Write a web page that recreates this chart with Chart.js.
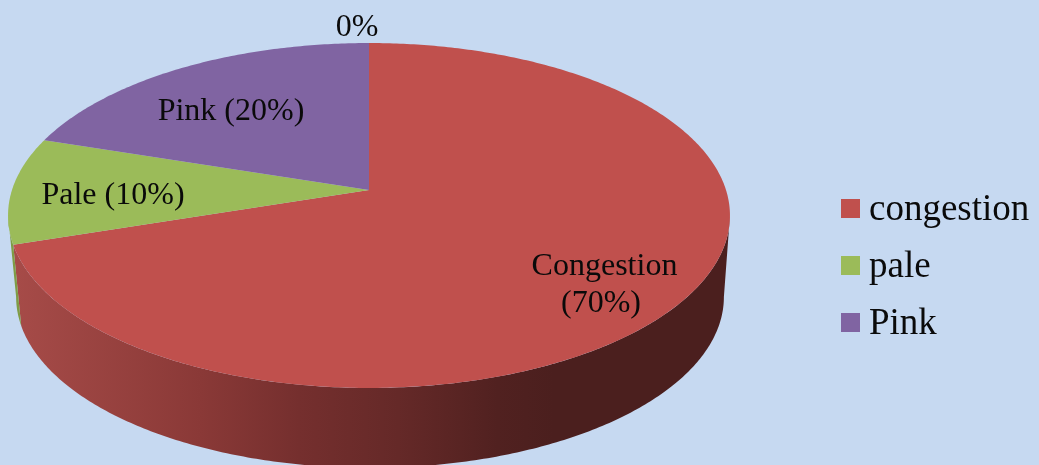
<!DOCTYPE html>
<html>
<head>
<meta charset="utf-8">
<script src="https://cdn.jsdelivr.net/npm/chart.js@4/dist/chart.umd.min.js"></script>
<style>
html,body{margin:0;padding:0;background:#C6D9F1;overflow:hidden}
canvas{display:block}
</style>
</head>
<body>
<canvas id="c" width="1039" height="465"></canvas>
<script>
const categories = ['congestion', 'pale', 'Pink', ''];
const values = [70, 10, 20, 0];
const colors = ['#C0504D', '#9BBB59', '#8064A2', '#4BACC6'];
const sideColors = ['#8A3836', '#7F9C45', '#5E4A78', '#3A8A9E'];
const sliceLabels = [
  {lines: ['Congestion', '(70%)'], cx: [604.5, 601], by: [275, 312]},
  {lines: ['Pale (10%)'], cx: [113], by: [204]},
  {lines: ['Pink (20%)'], cx: [231], by: [120]},
  {lines: ['0%'], cx: [357], by: [36]}
];

// Perspective of the pie disc: a unit circle seen from above
const K = -0.1478;
const topDisc = {x0: 369, y0: 190, a: 357, b: 168.7};
const baseDisc = {x0: 370, y0: 271.7, a: 350, b: 167.2};
function project(d, ang) {
  const u = Math.cos(ang), v = Math.sin(ang), w = 1 + K * v;
  return [d.x0 + d.a * u / w, d.y0 + d.b * v / w];
}
function trace(ctx, d, from, to, first) {
  const n = Math.max(2, Math.ceil(Math.abs(to - from) * 90));
  for (let i = 0; i <= n; i++) {
    const p = project(d, from + (to - from) * i / n);
    if (i === 0 && first) ctx.moveTo(p[0], p[1]); else ctx.lineTo(p[0], p[1]);
  }
}

const pie3d = {
  id: 'pie3d',
  beforeDatasetDraw(chart, args) {
    const ctx = chart.ctx, arcs = chart.getDatasetMeta(args.index).data;
    const aR = Math.asin(-K), aL = Math.PI - aR;
    const grad = ctx.createLinearGradient(16, 0, 724, 0);
    [[0, '#A64B48'], [0.26, '#8A3937'], [0.4, '#752F2E'], [0.54, '#652928'],
     [0.68, '#512120'], [0.76, '#4B1F1E'], [1, '#4B1F1E']].forEach(s => grad.addColorStop(s[0], s[1]));
    ctx.save();
    // side wall
    arcs.forEach((el, i) => {
      const lo = Math.max(el.startAngle, aR), hi = Math.min(el.endAngle, aL);
      if (hi <= lo) return;
      ctx.beginPath();
      trace(ctx, topDisc, lo, hi, true);
      trace(ctx, baseDisc, hi, lo, false);
      ctx.closePath();
      ctx.fillStyle = i === 0 ? grad : sideColors[i];
      ctx.fill();
    });
    // top face
    arcs.forEach((el, i) => {
      if (el.endAngle - el.startAngle <= 0) return;
      ctx.beginPath();
      ctx.moveTo(topDisc.x0, topDisc.y0);
      trace(ctx, topDisc, el.startAngle, el.endAngle, false);
      ctx.closePath();
      ctx.fillStyle = colors[i];
      ctx.fill();
    });
    ctx.restore();
    return false;
  },
  afterDraw(chart) {
    const ctx = chart.ctx;
    ctx.save();
    ctx.fillStyle = '#0A0A0A';
    ctx.textAlign = 'center';
    ctx.textBaseline = 'alphabetic';
    ctx.font = '32px "Liberation Serif"';
    sliceLabels.forEach(l => l.lines.forEach((t, j) => ctx.fillText(t, l.cx[j], l.by[j])));
    // legend
    ctx.textAlign = 'left';
    ctx.font = '37px "Liberation Serif"';
    chart.data.labels.forEach((name, i) => {
      if (!name) return;
      ctx.fillStyle = colors[i];
      ctx.fillRect(841, 199 + 57 * i, 19, 19);
      ctx.fillStyle = '#0A0A0A';
      ctx.fillText(name, 869, 220 + 57 * i);
    });
    ctx.restore();
  }
};

new Chart(document.getElementById('c'), {
  type: 'pie',
  data: {labels: categories, datasets: [{data: values, backgroundColor: colors, borderWidth: 0}]},
  options: {
    responsive: false,
    animation: false,
    events: [],
    plugins: {legend: {display: false}, tooltip: {enabled: false}}
  },
  plugins: [pie3d]
});
</script>
</body>
</html>
